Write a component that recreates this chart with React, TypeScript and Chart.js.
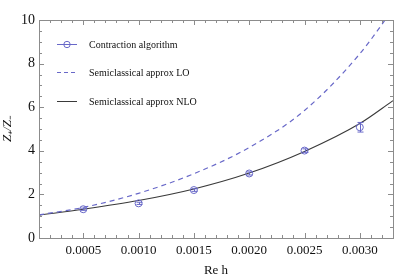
import React, { useEffect, useRef } from "react";
import { Chart, registerables } from "chart.js";

Chart.register(...registerables);

// Data
const pointX = [0.0005, 0.001, 0.0015, 0.002, 0.0025, 0.003];
const pointY = [1.32, 1.59, 2.2, 2.96, 4.01, 5.08];
const pointErr = [0.05, 0.05, 0.06, 0.07, 0.08, 0.22];

const curveX = [0.0001, 0.0005, 0.001, 0.0015, 0.002, 0.0025, 0.003, 0.0033];
const loY = [1.06, 1.4, 2.05, 2.95, 4.15, 5.85, 8.45, 10.5];
const nloY = [1.05, 1.32, 1.72, 2.25, 2.98, 3.97, 5.25, 6.3];

const xTicks = [0.0005, 0.001, 0.0015, 0.002, 0.0025, 0.003];
const yTicks = [0, 2, 4, 6, 8, 10];

const seriesNames = ["Contraction algorithm", "Semiclassical approx LO", "Semiclassical approx NLO"];

const BLUE = "rgb(104,104,200)";
const BLACK = "#3a3a3a";
const FRAME = "#8c8c8c";
const FONT = "'Liberation Serif', 'Times New Roman', serif";

const framePlugin = {
  id: "frameTicks",
  afterDraw(chart: any) {
    const { ctx, chartArea, scales } = chart;
    const { left, right, top, bottom } = chartArea;
    const x = scales.x;
    const y = scales.y;
    ctx.save();
    ctx.strokeStyle = FRAME;
    ctx.lineWidth = 1;
    ctx.strokeRect(Math.round(left) + 0.5, Math.round(top) + 0.5, Math.round(right - left), Math.round(bottom - top));
    ctx.beginPath();
    for (let i = 1; i <= 33; i++) {
      const v = i * 0.0001;
      const px = Math.round(x.getPixelForValue(v)) + 0.5;
      if (px <= left || px >= right) continue;
      const len = i % 5 === 0 ? 5 : 3;
      ctx.moveTo(px, bottom);
      ctx.lineTo(px, bottom - len);
      ctx.moveTo(px, top);
      ctx.lineTo(px, top + len);
    }
    for (let i = 0; i <= 20; i++) {
      const v = i * 0.5;
      const py = Math.round(y.getPixelForValue(v)) + 0.5;
      const len = i % 4 === 0 ? 5 : 3;
      ctx.moveTo(left, py);
      ctx.lineTo(left + len, py);
      ctx.moveTo(right, py);
      ctx.lineTo(right - len, py);
    }
    ctx.stroke();

    // Legend
    const lx0 = left + 18;
    const lx1 = left + 38;
    const tx = left + 50;
    const rows = [top + 24, top + 52, top + 81];
    ctx.font = `10px ${FONT}`;
    ctx.textBaseline = "middle";
    ctx.fillStyle = "#111";
    rows.forEach((ry, i) => {
      ctx.beginPath();
      ctx.lineWidth = 1;
      if (i === 0) {
        ctx.strokeStyle = BLUE;
        ctx.moveTo(lx0, ry + 0.5);
        ctx.lineTo(lx1, ry + 0.5);
        ctx.stroke();
        ctx.beginPath();
        ctx.arc((lx0 + lx1) / 2, ry + 0.5, 3.2, 0, Math.PI * 2);
        ctx.stroke();
      } else if (i === 1) {
        ctx.strokeStyle = BLUE;
        ctx.setLineDash([4, 3]);
        ctx.moveTo(lx0, ry + 0.5);
        ctx.lineTo(lx1, ry + 0.5);
        ctx.stroke();
        ctx.setLineDash([]);
      } else {
        ctx.strokeStyle = BLACK;
        ctx.moveTo(lx0, ry + 0.5);
        ctx.lineTo(lx1, ry + 0.5);
        ctx.stroke();
      }
      ctx.fillText(seriesNames[i], tx, ry + 1);
    });
    ctx.restore();
  },
};

const errorBarPlugin = {
  id: "errorBars",
  afterDatasetsDraw(chart: any) {
    const { ctx, scales } = chart;
    const x = scales.x;
    const y = scales.y;
    ctx.save();
    ctx.strokeStyle = BLUE;
    ctx.lineWidth = 1;
    pointX.forEach((xv, i) => {
      const px = Math.round(x.getPixelForValue(xv)) + 0.5;
      const pt = y.getPixelForValue(pointY[i] + pointErr[i]);
      const pb = y.getPixelForValue(pointY[i] - pointErr[i]);
      ctx.beginPath();
      ctx.moveTo(px, pt);
      ctx.lineTo(px, pb);
      ctx.moveTo(px - 3, pt);
      ctx.lineTo(px + 3, pt);
      ctx.moveTo(px - 3, pb);
      ctx.lineTo(px + 3, pb);
      ctx.stroke();
    });
    ctx.restore();
  },
};

export default function App() {
  const ref = useRef<HTMLCanvasElement | null>(null);
  useEffect(() => {
    if (!ref.current) return;
    const chart = new Chart(ref.current, {
      type: "scatter",
      data: {
        datasets: [
          {
            label: seriesNames[0],
            data: pointX.map((v, i) => ({ x: v, y: pointY[i] })),
            showLine: false,
            pointStyle: "circle",
            pointRadius: 3.5,
            pointBorderWidth: 1,
            borderColor: BLUE,
            backgroundColor: "rgba(0,0,0,0)",
          },
          {
            label: seriesNames[1],
            data: curveX.map((v, i) => ({ x: v, y: loY[i] })),
            showLine: true,
            pointRadius: 0,
            borderColor: BLUE,
            borderWidth: 1.2,
            borderDash: [5, 4],
            cubicInterpolationMode: "monotone",
          },
          {
            label: seriesNames[2],
            data: curveX.map((v, i) => ({ x: v, y: nloY[i] })),
            showLine: true,
            pointRadius: 0,
            borderColor: BLACK,
            borderWidth: 1.1,
            cubicInterpolationMode: "monotone",
          },
        ],
      },
      options: {
        responsive: false,
        animation: false,
        layout: { padding: { top: 20, right: 22, left: 0, bottom: 2 } },
        plugins: { legend: { display: false }, tooltip: { enabled: false } },
        scales: {
          x: {
            type: "linear",
            min: 0.0001,
            max: 0.0033,
            grid: { display: false, drawTicks: false },
            border: { display: false },
            afterBuildTicks: (s: any) => {
              s.ticks = xTicks.map((v) => ({ value: v }));
            },
            afterFit: (s: any) => {
              s.height = 40;
            },
            ticks: {
              padding: 5,
              maxRotation: 0,
              autoSkip: false,
              color: "#111",
              font: { family: FONT, size: 13 },
              callback: (v: any) => Number(v).toFixed(4),
            },
            title: {
              display: true,
              text: "Re h",
              color: "#111",
              font: { family: FONT, size: 13 },
              padding: { top: 0, bottom: 0 },
            },
          },
          y: {
            type: "linear",
            min: 0,
            max: 10,
            grid: { display: false, drawTicks: false },
            border: { display: false },
            afterBuildTicks: (s: any) => {
              s.ticks = yTicks.map((v) => ({ value: v }));
            },
            afterFit: (s: any) => {
              s.width = 39;
            },
            ticks: {
              padding: 4,
              color: "#111",
              font: { family: FONT, size: 14 },
            },
            title: {
              display: true,
              text: "Z₊/Z₋",
              color: "#111",
              font: { family: FONT, size: 13, style: "italic" },
              padding: { top: 0, bottom: 0 },
            },
          },
        },
      },
      plugins: [errorBarPlugin, framePlugin],
    } as any);
    return () => chart.destroy();
  }, []);
  return (
    <div style={{ position: "absolute", left: 0, top: 0, width: 415, height: 280, background: "#fff" }}>
      <canvas ref={ref} width={415} height={280} />
    </div>
  );
}
